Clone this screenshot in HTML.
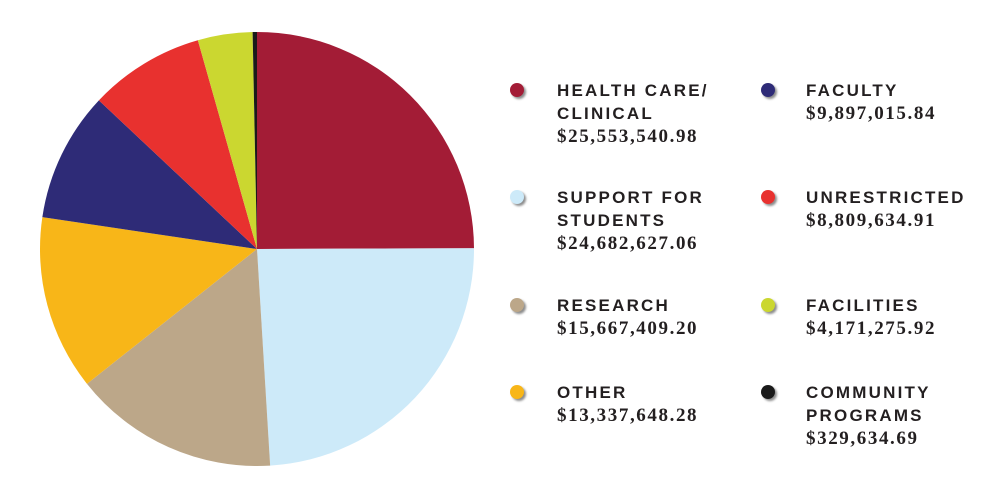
<!DOCTYPE html>
<html><head><meta charset="utf-8"><style>
body{margin:0;background:#fff;width:1000px;height:500px;overflow:hidden;position:relative}
.l{position:absolute;font-family:"Liberation Sans",sans-serif;font-weight:bold;font-size:17px;letter-spacing:2.2px;color:#231f20;line-height:23px}
.v{font-family:"Liberation Serif",serif;font-weight:bold;font-size:19px;letter-spacing:1.6px;line-height:24px}
.d{position:absolute;width:14px;height:14px;border-radius:50%;box-shadow:2px 2px 2px rgba(0,0,0,.45)}
</style></head><body>
<svg width="1000" height="500" style="position:absolute;left:0;top:0" id="s"></svg>
<script>
var cx=257,cy=249,r=217;
var d=[[25553540.98,"#a31c36"],[24682627.06,"#cdeaf9"],[15667409.20,"#bca789"],[13337648.28,"#f8b618"],[9897015.84,"#2e2b77"],[8809634.91,"#e8312f"],[4171275.92,"#cbd730"],[329634.69,"#1a1a1a"]];
var t=0;d.forEach(function(x){t+=x[0]});
var a=0,h="";
d.forEach(function(x){var b=a+x[0]/t*2*Math.PI;
var x1=cx+r*Math.sin(a),y1=cy-r*Math.cos(a),x2=cx+r*Math.sin(b),y2=cy-r*Math.cos(b);
h+='<path d="M'+cx+' '+cy+'L'+x1+' '+y1+'A'+r+' '+r+' 0 '+((b-a)>Math.PI?1:0)+' 1 '+x2+' '+y2+'Z" fill="'+x[1]+'"/>';a=b;});
document.getElementById("s").innerHTML=h;
</script>
<div class="d" style="left:510px;top:83px;background:#a31c36"></div>
<div class="d" style="left:510px;top:190px;background:#cdeaf9"></div>
<div class="d" style="left:510px;top:298px;background:#bca789"></div>
<div class="d" style="left:510px;top:385px;background:#f8b618"></div>
<div class="d" style="left:761px;top:83px;background:#2e2b77"></div>
<div class="d" style="left:761px;top:190px;background:#e8312f"></div>
<div class="d" style="left:761px;top:298px;background:#cbd730"></div>
<div class="d" style="left:761px;top:385px;background:#1a1a1a"></div>
<div class="l" style="left:557px;top:79px">HEALTH CARE/<br>CLINICAL<br><span class="v">$25,553,540.98</span></div>
<div class="l" style="left:557px;top:186px">SUPPORT FOR<br>STUDENTS<br><span class="v">$24,682,627.06</span></div>
<div class="l" style="left:557px;top:294px">RESEARCH<br><span class="v">$15,667,409.20</span></div>
<div class="l" style="left:557px;top:381px">OTHER<br><span class="v">$13,337,648.28</span></div>
<div class="l" style="left:806px;top:79px">FACULTY<br><span class="v">$9,897,015.84</span></div>
<div class="l" style="left:806px;top:186px">UNRESTRICTED<br><span class="v">$8,809,634.91</span></div>
<div class="l" style="left:806px;top:294px">FACILITIES<br><span class="v">$4,171,275.92</span></div>
<div class="l" style="left:806px;top:381px">COMMUNITY<br>PROGRAMS<br><span class="v">$329,634.69</span></div>
</body></html>
